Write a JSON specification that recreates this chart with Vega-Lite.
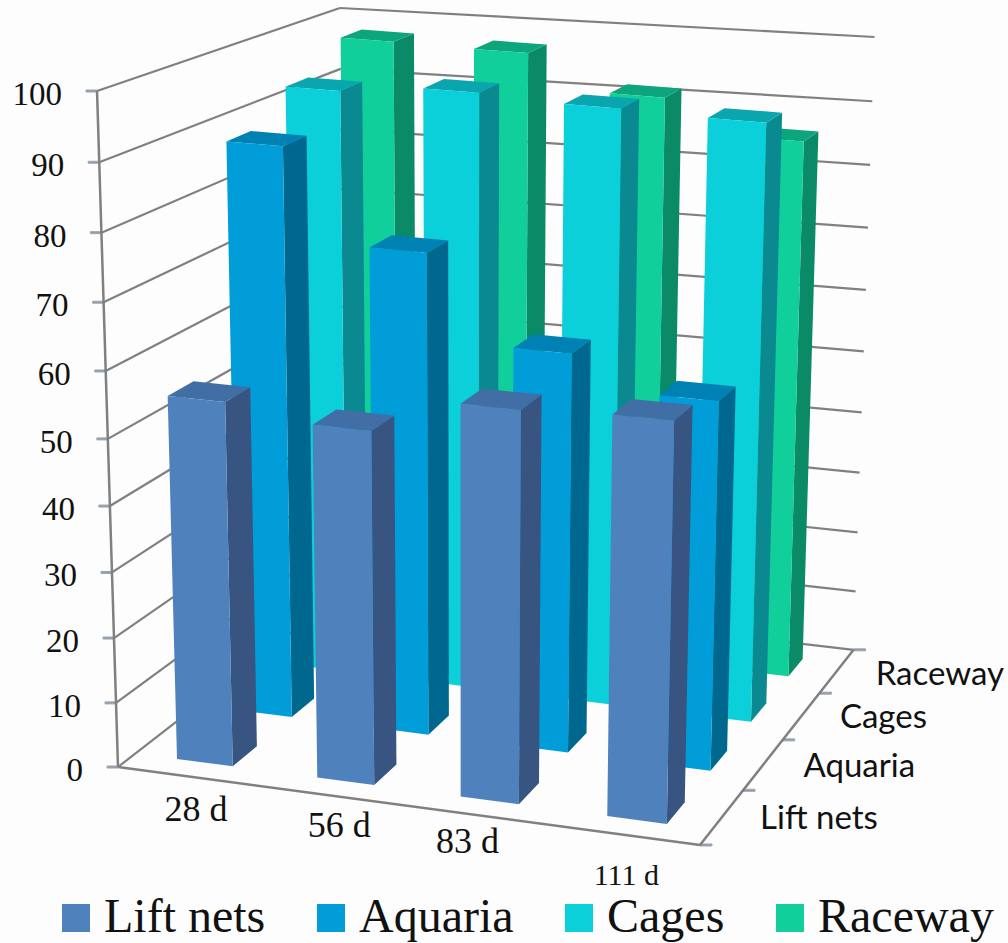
{
  "$schema": "https://vega.github.io/schema/vega-lite/v6.json",
  "width": 1008,
  "height": 943,
  "padding": 0,
  "autosize": "none",
  "background": "#fdfdfd",
  "config": {"view": {"stroke": null}},
  "datasets": {
    "bars": [
      {"period": "28 d", "enclosure": "Raceway", "value": 97.2},
      {"period": "56 d", "enclosure": "Raceway", "value": 97},
      {"period": "83 d", "enclosure": "Raceway", "value": 91.7},
      {"period": "111 d", "enclosure": "Raceway", "value": 86.6},
      {"period": "28 d", "enclosure": "Cages", "value": 93},
      {"period": "56 d", "enclosure": "Cages", "value": 94.4},
      {"period": "83 d", "enclosure": "Cages", "value": 93.7},
      {"period": "111 d", "enclosure": "Cages", "value": 93.3},
      {"period": "28 d", "enclosure": "Aquaria", "value": 88.5},
      {"period": "56 d", "enclosure": "Aquaria", "value": 74.6},
      {"period": "83 d", "enclosure": "Aquaria", "value": 61.6},
      {"period": "111 d", "enclosure": "Aquaria", "value": 56.7},
      {"period": "28 d", "enclosure": "Lift nets", "value": 55.5},
      {"period": "56 d", "enclosure": "Lift nets", "value": 53.5},
      {"period": "83 d", "enclosure": "Lift nets", "value": 58.8},
      {"period": "111 d", "enclosure": "Lift nets", "value": 59.5}
    ],
    "valueTicks": [
      {"tick": 0}, {"tick": 10}, {"tick": 20}, {"tick": 30}, {"tick": 40}, {"tick": 50},
      {"tick": 60}, {"tick": 70}, {"tick": 80}, {"tick": 90}, {"tick": 100}
    ],
    "periods": [
      {"period": "28 d", "nudgeX": 8, "nudgeY": 22, "size": 36},
      {"period": "56 d", "nudgeX": 9, "nudgeY": 19, "size": 36},
      {"period": "83 d", "nudgeX": -8, "nudgeY": 15, "size": 36},
      {"period": "111 d", "nudgeX": 2, "nudgeY": 29, "size": 30}
    ],
    "enclosures": [
      {"enclosure": "Lift nets", "nudgeX": 0, "nudgeY": 0},
      {"enclosure": "Aquaria", "nudgeX": -1, "nudgeY": 0},
      {"enclosure": "Cages", "nudgeX": -15, "nudgeY": 0},
      {"enclosure": "Raceway", "nudgeX": 6, "nudgeY": 2}
    ]
  },
  "layer": [
    {
      "description": "Left wall gridlines, running from the front-left edge to the back corner",
      "data": {"name": "valueTicks"},
      "transform": [
        {"calculate": "datum.tick/100", "as": "v"},
        {"calculate": "(118-26.5*datum.v)/(1-0.057*datum.v)", "as": "px"},
        {"calculate": "(767-681.2*datum.v)/(1-0.057*datum.v)", "as": "py"},
        {"calculate": "(401.4-26.5*datum.v)/(1.16-0.057*datum.v)", "as": "qx"},
        {"calculate": "(684.4-675.6*datum.v)/(1.16-0.057*datum.v)", "as": "qy"}
      ],
      "mark": {"type": "rule", "stroke": "#808080", "strokeWidth": 2.2},
      "encoding": {
        "x": {"field": "px", "type": "quantitative", "scale": {"domain": [0, 1008], "range": [0, 1008]}, "axis": null},
        "y": {"field": "py", "type": "quantitative", "scale": {"domain": [0, 943], "range": [0, 943]}, "axis": null},
        "x2": {"field": "qx"},
        "y2": {"field": "qy"}
      }
    },
    {
      "description": "Back wall gridlines",
      "data": {"name": "valueTicks"},
      "transform": [
        {"calculate": "datum.tick/100", "as": "v"},
        {"calculate": "(401.4-26.5*datum.v)/(1.16-0.057*datum.v)", "as": "px"},
        {"calculate": "(684.4-675.6*datum.v)/(1.16-0.057*datum.v)", "as": "py"},
        {"calculate": "(952.6-26.5*datum.v)/(1.116-0.057*datum.v)", "as": "qx"},
        {"calculate": "(725.2-686*datum.v)/(1.116-0.057*datum.v)", "as": "qy"}
      ],
      "mark": {"type": "rule", "stroke": "#808080", "strokeWidth": 2.2},
      "encoding": {
        "x": {"field": "px", "type": "quantitative", "scale": {"domain": [0, 1008], "range": [0, 1008]}, "axis": null},
        "y": {"field": "py", "type": "quantitative", "scale": {"domain": [0, 943], "range": [0, 943]}, "axis": null},
        "x2": {"field": "qx"},
        "y2": {"field": "qy"}
      }
    },
    {
      "description": "Value axis line, floor front edge and floor right edge",
      "data": {"values": [{"edge": "axis"}, {"edge": "front"}, {"edge": "right"}]},
      "transform": [
        {"calculate": "datum.edge=='right'?1:0", "as": "i0"},
        {"calculate": "datum.edge=='axis'?0:1", "as": "i1"},
        {"calculate": "datum.edge=='right'?1:0", "as": "j1"},
        {"calculate": "datum.edge=='axis'?1:0", "as": "v1"},
        {"calculate": "1-0.044*datum.i0", "as": "d0"},
        {"calculate": "1-0.044*datum.i1+0.16*datum.j1-0.057*datum.v1", "as": "d1"},
        {"calculate": "(118+551.2*datum.i0)/datum.d0", "as": "px"},
        {"calculate": "(767+40.8*datum.i0)/datum.d0", "as": "py"},
        {"calculate": "(118+551.2*datum.i1+283.4*datum.j1-26.5*datum.v1)/datum.d1", "as": "qx"},
        {"calculate": "(767+40.8*datum.i1-82.6*datum.j1-681.2*datum.v1)/datum.d1", "as": "qy"}
      ],
      "mark": {"type": "rule", "stroke": "#808080", "strokeWidth": 2.5},
      "encoding": {
        "x": {"field": "px", "type": "quantitative", "scale": {"domain": [0, 1008], "range": [0, 1008]}, "axis": null},
        "y": {"field": "py", "type": "quantitative", "scale": {"domain": [0, 943], "range": [0, 943]}, "axis": null},
        "x2": {"field": "qx"},
        "y2": {"field": "qy"}
      }
    },
    {
      "description": "Tick stubs on the value axis",
      "data": {"name": "valueTicks"},
      "transform": [
        {"calculate": "datum.tick/100", "as": "v"},
        {"calculate": "(118-26.5*datum.v)/(1-0.057*datum.v)", "as": "px"},
        {"calculate": "(767-681.2*datum.v)/(1-0.057*datum.v)", "as": "py"}
      ],
      "mark": {"type": "tick", "orient": "horizontal", "size": 11, "stroke": "#808080", "thickness": 2, "xOffset": -5.5},
      "encoding": {
        "x": {"field": "px", "type": "quantitative", "scale": {"domain": [0, 1008], "range": [0, 1008]}, "axis": null},
        "y": {"field": "py", "type": "quantitative", "scale": {"domain": [0, 943], "range": [0, 943]}, "axis": null}
      }
    },
    {
      "description": "Bars: each is three filled faces, painted back row first",
      "data": {"name": "bars"},
      "transform": [
        {"calculate": "indexof(['28 d','56 d','83 d','111 d'], datum.period)", "as": "col"},
        {"calculate": "indexof(['Lift nets','Aquaria','Cages','Raceway'], datum.enclosure)", "as": "row"},
        {"calculate": "['side','top','front']", "as": "face"},
        {"flatten": ["face"]},
        {"calculate": "[0,1,2,3]", "as": "corner"},
        {"flatten": ["corner"]},
        {"calculate": "datum.face=='side'?1:[-1,1,1,-1][datum.corner]", "as": "ci"},
        {"calculate": "datum.face=='front'?-1:datum.face=='side'?[-1,1,1,-1][datum.corner]:[-1,-1,1,1][datum.corner]", "as": "cj"},
        {"calculate": "datum.face=='top'?1:[0,0,1,1][datum.corner]", "as": "ch"},
        {"calculate": "(datum.col+0.5)/4+datum.ci*0.05", "as": "i"},
        {"calculate": "(datum.row+0.5)/4-0.008+datum.cj*0.05", "as": "j"},
        {"calculate": "datum.value/100*datum.ch", "as": "v"},
        {"calculate": "1-0.044*datum.i+0.16*datum.j-0.057*datum.v", "as": "d"},
        {"calculate": "(118+551.2*datum.i+283.4*datum.j-26.5*datum.v)/datum.d", "as": "px"},
        {"calculate": "(767+40.8*datum.i-82.6*datum.j-681.2*datum.v)/datum.d", "as": "py"},
        {"calculate": "datum.enclosure+' '+datum.period+' '+datum.face", "as": "faceId"},
        {"calculate": "datum.face=='front'?datum.enclosure:datum.enclosure+' '+datum.face", "as": "shade"}
      ],
      "mark": {"type": "line", "filled": true, "strokeWidth": 0},
      "encoding": {
        "x": {"field": "px", "type": "quantitative", "scale": {"domain": [0, 1008], "range": [0, 1008]}, "axis": null},
        "y": {"field": "py", "type": "quantitative", "scale": {"domain": [0, 943], "range": [0, 943]}, "axis": null},
        "detail": {"field": "faceId"},
        "order": {"field": "corner"},
        "fill": {
          "field": "shade",
          "type": "nominal",
          "scale": {
            "domain": ["Lift nets", "Aquaria", "Cages", "Raceway", "Lift nets side", "Aquaria side", "Cages side", "Raceway side", "Lift nets top", "Aquaria top", "Cages top", "Raceway top"],
            "range": ["#4f81bd", "#009dd9", "#0bd0d9", "#10cf9b", "#385480", "#00688f", "#0a8a90", "#0a8a66", "#426ea6", "#0081b3", "#0aa6b0", "#0da67c"]
          },
          "legend": {
            "values": ["Lift nets", "Aquaria", "Cages", "Raceway"],
            "orient": "none",
            "legendX": 52,
            "legendY": 893,
            "direction": "horizontal",
            "columns": 4,
            "title": null,
            "symbolType": "square",
            "symbolSize": 784,
            "symbolStrokeWidth": 0,
            "labelFont": "Liberation Serif",
            "labelFontSize": 48,
            "labelColor": "#111111",
            "labelOffset": 4,
            "labelLimit": 400,
            "columnPadding": 41,
            "clipHeight": 50
          }
        }
      }
    },
    {
      "description": "Value axis labels",
      "data": {"name": "valueTicks"},
      "transform": [
        {"calculate": "datum.tick/100", "as": "v"},
        {"calculate": "(118-26.5*datum.v)/(1-0.057*datum.v)", "as": "px"},
        {"calculate": "(767-681.2*datum.v)/(1-0.057*datum.v)", "as": "py"}
      ],
      "mark": {"type": "text", "align": "right", "baseline": "middle", "dx": -35, "dy": 4, "font": "Liberation Serif", "fontSize": 33, "color": "#111111"},
      "encoding": {
        "x": {"field": "px", "type": "quantitative", "scale": {"domain": [0, 1008], "range": [0, 1008]}, "axis": null},
        "y": {"field": "py", "type": "quantitative", "scale": {"domain": [0, 943], "range": [0, 943]}, "axis": null},
        "text": {"field": "tick", "type": "nominal"}
      }
    },
    {
      "description": "Time labels along the front edge",
      "data": {"name": "periods"},
      "transform": [
        {"calculate": "(indexof(['28 d','56 d','83 d','111 d'], datum.period)+0.5)/4", "as": "i"},
        {"calculate": "1-0.044*datum.i", "as": "d"},
        {"calculate": "(118+551.2*datum.i)/datum.d+datum.nudgeX", "as": "px"},
        {"calculate": "(767+40.8*datum.i)/datum.d+datum.nudgeY+12", "as": "py"}
      ],
      "mark": {"type": "text", "align": "center", "baseline": "middle", "font": "Liberation Serif", "color": "#111111"},
      "encoding": {
        "x": {"field": "px", "type": "quantitative", "scale": {"domain": [0, 1008], "range": [0, 1008]}, "axis": null},
        "y": {"field": "py", "type": "quantitative", "scale": {"domain": [0, 943], "range": [0, 943]}, "axis": null},
        "text": {"field": "period", "type": "nominal"},
        "size": {"field": "size", "type": "quantitative", "scale": null}
      }
    },
    {
      "description": "Enclosure labels along the right floor edge",
      "data": {"name": "enclosures"},
      "transform": [
        {"calculate": "(indexof(['Lift nets','Aquaria','Cages','Raceway'], datum.enclosure)+0.5)/4", "as": "j"},
        {"calculate": "0.956+0.16*datum.j", "as": "d"},
        {"calculate": "(669.2+283.4*datum.j)/datum.d+datum.nudgeX", "as": "px"},
        {"calculate": "(807.8-82.6*datum.j)/datum.d+datum.nudgeY", "as": "py"}
      ],
      "mark": {"type": "text", "align": "center", "baseline": "middle", "dx": 97, "dy": 2, "font": "Lato", "fontSize": 33, "color": "#111111"},
      "encoding": {
        "x": {"field": "px", "type": "quantitative", "scale": {"domain": [0, 1008], "range": [0, 1008]}, "axis": null},
        "y": {"field": "py", "type": "quantitative", "scale": {"domain": [0, 943], "range": [0, 943]}, "axis": null},
        "text": {"field": "enclosure", "type": "nominal"}
      }
    },
    {
      "description": "Tick stubs on the right floor edge at category boundaries",
      "data": {"values": [{"boundary": 0}, {"boundary": 1}, {"boundary": 2}, {"boundary": 3}, {"boundary": 4}]},
      "transform": [
        {"calculate": "datum.boundary/4", "as": "j"},
        {"calculate": "0.956+0.16*datum.j", "as": "d"},
        {"calculate": "(669.2+283.4*datum.j)/datum.d", "as": "px"},
        {"calculate": "(807.8-82.6*datum.j)/datum.d", "as": "py"}
      ],
      "mark": {"type": "tick", "orient": "horizontal", "size": 12, "stroke": "#808080", "thickness": 2, "xOffset": 6},
      "encoding": {
        "x": {"field": "px", "type": "quantitative", "scale": {"domain": [0, 1008], "range": [0, 1008]}, "axis": null},
        "y": {"field": "py", "type": "quantitative", "scale": {"domain": [0, 943], "range": [0, 943]}, "axis": null}
      }
    }
  ]
}
